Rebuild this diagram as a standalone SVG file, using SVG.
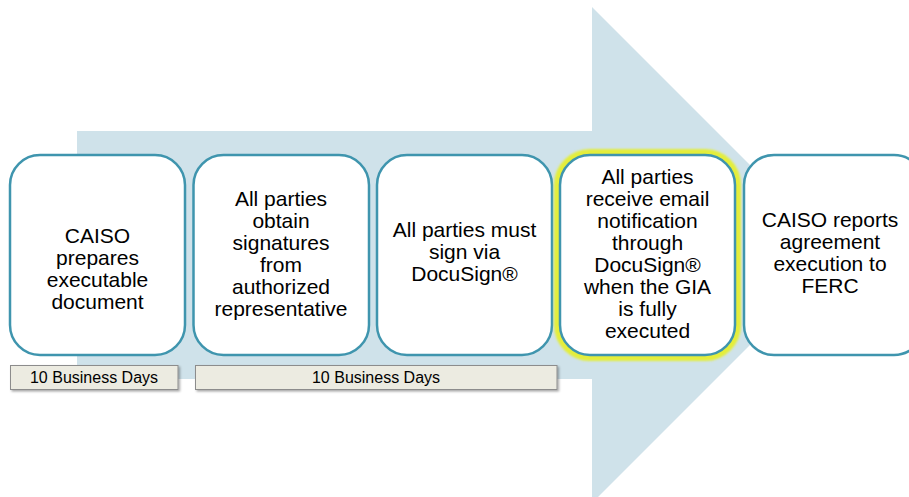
<svg xmlns="http://www.w3.org/2000/svg" width="909" height="497" viewBox="0 0 909 497">
  <defs>
    <filter id="glow" x="-20%" y="-20%" width="140%" height="140%">
      <feGaussianBlur stdDeviation="1.2"/>
    </filter>
    <filter id="shadow" x="-5%" y="-30%" width="110%" height="170%">
      <feDropShadow dx="1.5" dy="1.5" stdDeviation="1" flood-color="#000" flood-opacity="0.35"/>
    </filter>
  </defs>
  <style>
    .step { fill: #ffffff; stroke: #3f95ae; stroke-width: 2.5; }
    .txt { font-family: "Liberation Sans", Arial, sans-serif; font-size: 21px; fill: #000; text-anchor: middle; }
    .bar { fill: #ecebe1; stroke: #8c8c8c; stroke-width: 1; }
    .bartxt { font-family: "Liberation Sans", Arial, sans-serif; font-size: 16px; fill: #000; text-anchor: middle; }
  </style>
  <rect x="0" y="0" width="909" height="497" fill="#ffffff"/>
  <g id="arrow">
    <polygon points="77,131 592,131 592,7 840,255 592,503 592,379 77,379" fill="#cfe2ea"/>
  </g>
  <g id="connectors"></g>
  <g id="step1">
    <rect class="step" x="10" y="155" width="175" height="200" rx="30" ry="30"/>
    <text class="txt" x="97.5" y="243">CAISO</text>
    <text class="txt" x="97.5" y="265">prepares</text>
    <text class="txt" x="97.5" y="287">executable</text>
    <text class="txt" x="97.5" y="309">document</text>
  </g>
  <g id="step2">
    <rect class="step" x="193.5" y="155" width="175.5" height="200" rx="30" ry="30"/>
    <text class="txt" x="281" y="206">All parties</text>
    <text class="txt" x="281" y="228">obtain</text>
    <text class="txt" x="281" y="250">signatures</text>
    <text class="txt" x="281" y="272">from</text>
    <text class="txt" x="281" y="294">authorized</text>
    <text class="txt" x="281" y="316">representative</text>
  </g>
  <g id="step3">
    <rect class="step" x="377" y="155" width="175" height="200" rx="30" ry="30"/>
    <text class="txt" x="464.5" y="237">All parties must</text>
    <text class="txt" x="464.5" y="259">sign via</text>
    <text class="txt" x="464.5" y="281">DocuSign®</text>
  </g>
  <g id="step4">
    <rect x="560" y="155" width="175" height="200" rx="30" ry="30" fill="none" stroke="#e4ee3a" stroke-width="12" filter="url(#glow)"/>
    <rect class="step" x="560" y="155" width="175" height="200" rx="30" ry="30"/>
    <text class="txt" x="647.5" y="184">All parties</text>
    <text class="txt" x="647.5" y="206">receive email</text>
    <text class="txt" x="647.5" y="228">notification</text>
    <text class="txt" x="647.5" y="250">through</text>
    <text class="txt" x="647.5" y="272">DocuSign®</text>
    <text class="txt" x="647.5" y="294">when the GIA</text>
    <text class="txt" x="647.5" y="316">is fully</text>
    <text class="txt" x="647.5" y="338">executed</text>
  </g>
  <g id="step5">
    <rect class="step" x="744" y="155" width="180" height="200" rx="30" ry="30"/>
    <text class="txt" x="830" y="227">CAISO reports</text>
    <text class="txt" x="830" y="249">agreement</text>
    <text class="txt" x="830" y="271">execution to</text>
    <text class="txt" x="830" y="293">FERC</text>
  </g>
  <g id="duration1">
    <rect class="bar" x="10.5" y="365.5" width="167.5" height="24" filter="url(#shadow)"/>
    <text class="bartxt" x="94" y="383">10 Business Days</text>
  </g>
  <g id="duration2">
    <rect class="bar" x="195.5" y="365.5" width="361.5" height="24" filter="url(#shadow)"/>
    <text class="bartxt" x="376" y="383">10 Business Days</text>
  </g>
</svg>
